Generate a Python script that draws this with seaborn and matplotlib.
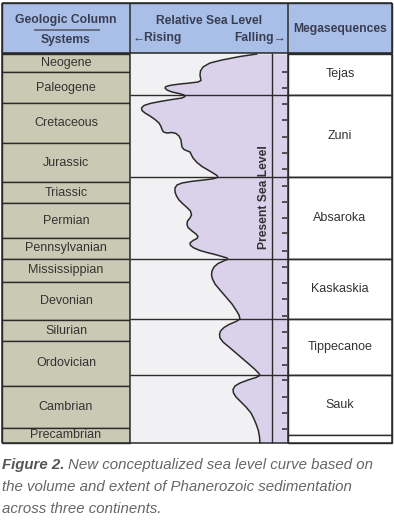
import matplotlib
matplotlib.use("Agg")
import matplotlib.pyplot as plt
import seaborn as sns
import numpy as np
import pandas as pd

# ---------------- data ----------------
systems = ["Neogene", "Paleogene", "Cretaceous", "Jurassic", "Triassic", "Permian",
           "Pennsylvanian", "Mississippian", "Devonian", "Silurian", "Ordovician",
           "Cambrian", "Precambrian"]
system_edges = [54, 72, 103, 143, 182, 203, 238, 259, 282, 320, 341, 386, 428, 443]

megasequences = ["Tejas", "Zuni", "Absaroka", "Kaskaskia", "Tippecanoe", "Sauk", ""]
mega_edges = [54, 95, 177, 259, 319, 375, 435, 443]

# relative sea level curve (horizontal position, vertical position in column)
curve_x = [257, 240, 222, 210, 203, 200.5, 200, 200.5, 201, 198, 190, 180, 171, 166, 165, 167,
           172, 179, 184, 185, 182, 172, 160, 150, 144, 141.5, 142, 145, 150, 155, 159, 161,
           162, 163.5, 167, 172, 176, 179, 181, 181.5, 182, 184, 187, 190, 191.5, 193, 197,
           202, 208, 213, 217, 218, 213, 204, 192, 182, 177, 175, 175, 176.5, 179, 183, 187,
           190.5, 191.5, 190, 187.5, 187, 188, 192, 196, 198, 197, 193, 190, 190.5, 194, 200,
           207, 215, 222, 227, 228, 224, 218, 214, 212, 211.5, 212.5, 215, 220, 226, 232, 236,
           239, 240, 236, 229, 224, 220.5, 219.5, 220, 223, 229, 236, 243, 250, 255, 258.5, 260,
           256, 248, 240, 235, 233, 233.5, 236, 241, 246, 251, 254, 256.5, 258.5, 259.5, 260]
curve_y = [54, 56.5, 60, 63, 67, 71, 75, 78, 80.5, 82, 83, 84, 85.2, 86.5, 88, 90,
           92, 93.5, 95, 96.5, 98, 99.5, 101.5, 103.5, 105.5, 108, 110.5, 113, 116, 119.5, 123, 126.5,
           129.5, 132, 133, 132.5, 133.5, 136, 140, 144, 147, 149.5, 150.8, 152, 155, 158, 162.5,
           166.5, 170, 173, 175.5, 177.3, 178.8, 180, 181.3, 183, 185, 188, 192, 196, 200, 204, 207.5,
           211, 215, 218, 221, 224.5, 227.5, 231, 234, 236.5, 238.5, 240.5, 243, 245.5, 248, 250.5,
           252.5, 254.5, 256.5, 258, 259.2, 260.8, 263.5, 267, 271, 275, 279, 284, 290, 297, 304, 310,
           315, 319, 321.5, 324.5, 327.5, 331, 334.5, 338, 342, 347, 353, 359, 365, 369.5, 373, 375.3,
           377.5, 380, 383, 386, 389.5, 393, 397, 402, 407, 413, 419, 425, 431, 437, 443]

tick_y = [72, 88, 103.5, 120, 136.5, 152.5, 169, 186, 202, 218, 233, 251, 267, 283,
          299, 316, 332, 348, 365, 380, 397, 413, 429]

caption_lead = "Figure 2."
caption_lines = ["New conceptualized sea level curve based on",
                 "the volume and extent of Phanerozoic sedimentation",
                 "across three continents."]

# ---------------- style ----------------
sns.set_theme(style="white")
plt.rcParams['font.family'] = ['Liberation Sans', 'DejaVu Sans']

HEADER = "#a9bfe8"
TAN = "#cacab4"
PURPLE = "#dad2ea"
GRAYBG = "#f1f1f3"
LINE = "#2b2b2b"
TXT = "#333333"
HTXT = "#3a3d52"

X0, X1, X2, X3 = 2, 130, 288, 392
TOP, HB = 3, 53
BOT = 443

fig = plt.figure(figsize=(3.94, 5.20), dpi=100)
ax = fig.add_axes([0, 0, 1, 1])
ax.set_xlim(0, 394)
ax.set_ylim(520, 0)
ax.axis("off")

# header band
ax.bar((X0 + X3) / 2, HB - TOP, width=X3 - X0, bottom=TOP, color=HEADER,
       edgecolor=LINE, linewidth=1.0, zorder=1)

# left column rows
heights = np.diff(system_edges)
ax.bar([(X0 + X1) / 2] * len(systems), heights, width=X1 - X0, bottom=system_edges[:-1],
       color=TAN, edgecolor=LINE, linewidth=1.0, zorder=1)
for name, a, b in zip(systems, system_edges[:-1], system_edges[1:]):
    ax.text((X0 + X1) / 2, (a + b) / 2, name, ha="center", va="center",
            fontsize=9, color=TXT, zorder=3)

# middle column
ax.bar((X1 + X2) / 2, BOT - HB, width=X2 - X1, bottom=HB, color=GRAYBG,
       linewidth=0, zorder=1)
cx = np.array(curve_x, dtype=float)
cy = np.array(curve_y, dtype=float)
ax.fill_betweenx(cy, cx, X2, color=PURPLE, linewidth=0, zorder=2)
sns.lineplot(x=cx, y=cy, sort=False, color=LINE, linewidth=1.1, ax=ax, zorder=4,
             estimator=None)
ax.set_xlim(0, 394)
ax.set_ylim(520, 0)

ax.vlines(272, HB, BOT, color=LINE, linewidth=1.0, zorder=5)
ax.hlines(tick_y, 282, 287, color=LINE, linewidth=1.1, zorder=5)
ax.text(264, 197, "Present Sea Level", rotation=90, ha="center", va="center",
        fontsize=8.7, fontweight="bold", color=TXT, zorder=5)

# megasequence boundaries across middle + right columns
ax.hlines(mega_edges[1:-2], X1, X3, color=LINE, linewidth=1.0, zorder=5)

# right column
mh = np.diff(mega_edges)
ax.bar([(X2 + X3) / 2] * len(megasequences), mh, width=X3 - X2, bottom=mega_edges[:-1],
       color="white", edgecolor=LINE, linewidth=1.0, zorder=3)
for name, a, b in zip(megasequences, mega_edges[:-1], mega_edges[1:]):
    if name:
        ax.text((X2 + X3) / 2, (a + b) / 2, name, ha="center", va="center",
                fontsize=9, color=TXT, zorder=4)

# column borders
ax.vlines([X0, X1, X2, X3], TOP, BOT, color=LINE, linewidth=1.1, zorder=6)
ax.hlines([TOP, HB, BOT], X0, X3, color=LINE, linewidth=1.1, zorder=6)

# header text
ax.text(66, 20.5, "Geologic Column", ha="center", va="center", fontsize=8.7,
        fontweight="bold", color=HTXT, zorder=7)
ax.hlines(30, 34, 100, color="#5a5d70", linewidth=1.2, zorder=7)
ax.text(66, 40.5, "Systems", ha="center", va="center", fontsize=8.7,
        fontweight="bold", color=HTXT, zorder=7)
ax.text(209, 21.5, "Relative Sea Level", ha="center", va="center", fontsize=8.7,
        fontweight="bold", color=HTXT, zorder=7)
ax.text(133, 37.5, "\u2190Rising", ha="left", va="center", fontsize=8.7,
        fontweight="bold", color=HTXT, zorder=7)
ax.text(286, 37.5, "Falling\u2192", ha="right", va="center", fontsize=8.7,
        fontweight="bold", color=HTXT, zorder=7)
ax.text(340, 29, "Megasequences", ha="center", va="center", fontsize=8.7,
        fontweight="bold", color=HTXT, zorder=7)

# caption
CAP = 10.8
t0 = ax.text(2, 465, caption_lead, ha="left", va="center", fontsize=CAP, fontstyle="italic",
             fontweight="bold", color="#555555")
fig.canvas.draw()
bb = t0.get_window_extent(renderer=fig.canvas.get_renderer())
ax.text(bb.x1 + 4, 465, caption_lines[0], ha="left", va="center", fontsize=CAP,
        fontstyle="italic", color="#666666")
ax.text(2, 487, caption_lines[1], ha="left", va="center", fontsize=CAP,
        fontstyle="italic", color="#666666")
ax.text(2, 509, caption_lines[2], ha="left", va="center", fontsize=CAP,
        fontstyle="italic", color="#666666")

fig.savefig("out.png", dpi=100)
